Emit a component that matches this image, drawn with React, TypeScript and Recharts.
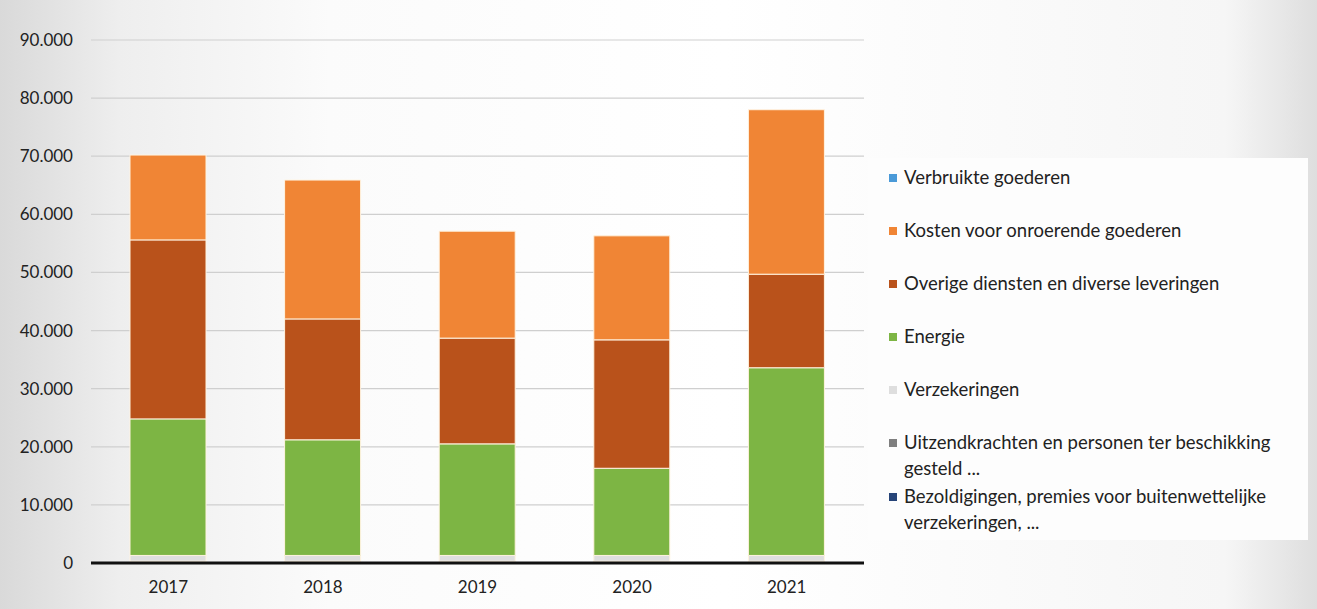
import React from 'react';
import { BarChart, Bar, XAxis, YAxis, CartesianGrid, ReferenceLine } from 'recharts';

const years = ['2017', '2018', '2019', '2020', '2021'];

const bezoldigingen = [100, 100, 100, 100, 100];
const uitzendkrachten = [200, 200, 200, 200, 200];
const verzekeringen = [1000, 1000, 1000, 1000, 1000];
const energie = [23500, 19900, 19200, 15000, 32300];
const overige = [30800, 20800, 18200, 22100, 16100];
const kosten = [14600, 23900, 18400, 17900, 28300];
const verbruikte = [0, 0, 0, 0, 0];

const yTicks = [0, 10000, 20000, 30000, 40000, 50000, 60000, 70000, 80000, 90000];

// stacking order, bottom first
const series = [
  { key: 'bez', name: 'Bezoldigingen, premies voor buitenwettelijke verzekeringen, ...', color: '#264478', values: bezoldigingen },
  { key: 'uitz', name: 'Uitzendkrachten en personen ter beschikking gesteld ...', color: '#7f7f7f', values: uitzendkrachten },
  { key: 'verz', name: 'Verzekeringen', color: '#dedede', values: verzekeringen },
  { key: 'energie', name: 'Energie', color: '#7db544', values: energie },
  { key: 'overige', name: 'Overige diensten en diverse leveringen', color: '#b9521b', values: overige },
  { key: 'kosten', name: 'Kosten voor onroerende goederen', color: '#f08535', values: kosten },
  { key: 'verbr', name: 'Verbruikte goederen', color: '#4a9ad8', values: verbruikte },
];

const data = years.map((year, i) => {
  const row: any = { year };
  series.forEach((s) => {
    row[s.key] = s.values[i];
  });
  return row;
});

const fmt = (v: number) => (v === 0 ? '0' : v.toLocaleString('de-DE'));

const FONT = 'Lato, "Open Sans", sans-serif';

const Legend = () => {
  const items = [...series].reverse();
  return (
    <div
      style={{
        position: 'absolute',
        left: 868,
        top: 158,
        width: 440,
        height: 382,
        background: '#fdfdfd',
        fontFamily: FONT,
        fontSize: 18.5,
        color: '#222',
      }}
    >
      <div style={{ position: 'absolute', left: 21, top: 6 }}>
        {items.map((s) => {
          const twoLines = s.key === 'uitz' || s.key === 'bez';
          return (
            <div
              key={s.key}
              style={{
                display: 'flex',
                alignItems: 'flex-start',
                height: twoLines ? 54 : 53,
                lineHeight: '26px',
              }}
            >
              <span
                style={{
                  display: 'inline-block',
                  width: 8,
                  height: 8,
                  marginTop: 10,
                  marginRight: 7,
                  background: s.color,
                  flex: 'none',
                }}
              />
              <span style={{ width: 385 }}>{s.name}</span>
            </div>
          );
        })}
      </div>
    </div>
  );
};

export default function App() {
  return (
    <div
      style={{
        position: 'absolute',
        left: 0,
        top: 0,
        width: 1317,
        height: 609,
        overflow: 'hidden',
        background: 'linear-gradient(90deg, #d9d9d9 0%, #eeeeee 9%, #fbfbfb 25%, #ffffff 55%, #f6f6f6 93%, #dedede 100%)',
      }}
    >
      <BarChart
        width={1317}
        height={609}
        data={data}
        margin={{ top: 40, right: 453, bottom: 16, left: 0 }}
        barSize={76}
      >
        <CartesianGrid vertical={false} stroke="#cfcfcf" strokeWidth={1.2} />
        <XAxis
          dataKey="year"
          axisLine={false}
          tickLine={false}
          height={30}
          tick={{ fill: '#222', fontSize: 17, fontFamily: FONT }}
          tickMargin={12}
        />
        <YAxis
          width={91}
          domain={[0, 90000]}
          ticks={yTicks}
          tickFormatter={fmt}
          axisLine={false}
          tickLine={false}
          tickMargin={12}
          tick={{ fill: '#222', fontSize: 17, fontFamily: FONT }}
        />
        {series.map((s) => (
          <Bar
            key={s.key}
            dataKey={s.key}
            name={s.name}
            stackId="a"
            fill={s.color}
            stroke="#fff3e0"
            strokeWidth={1}
            isAnimationActive={false}
          />
        ))}
        <ReferenceLine y={0} stroke="#111" strokeWidth={3} />
      </BarChart>
      <Legend />
    </div>
  );
}
